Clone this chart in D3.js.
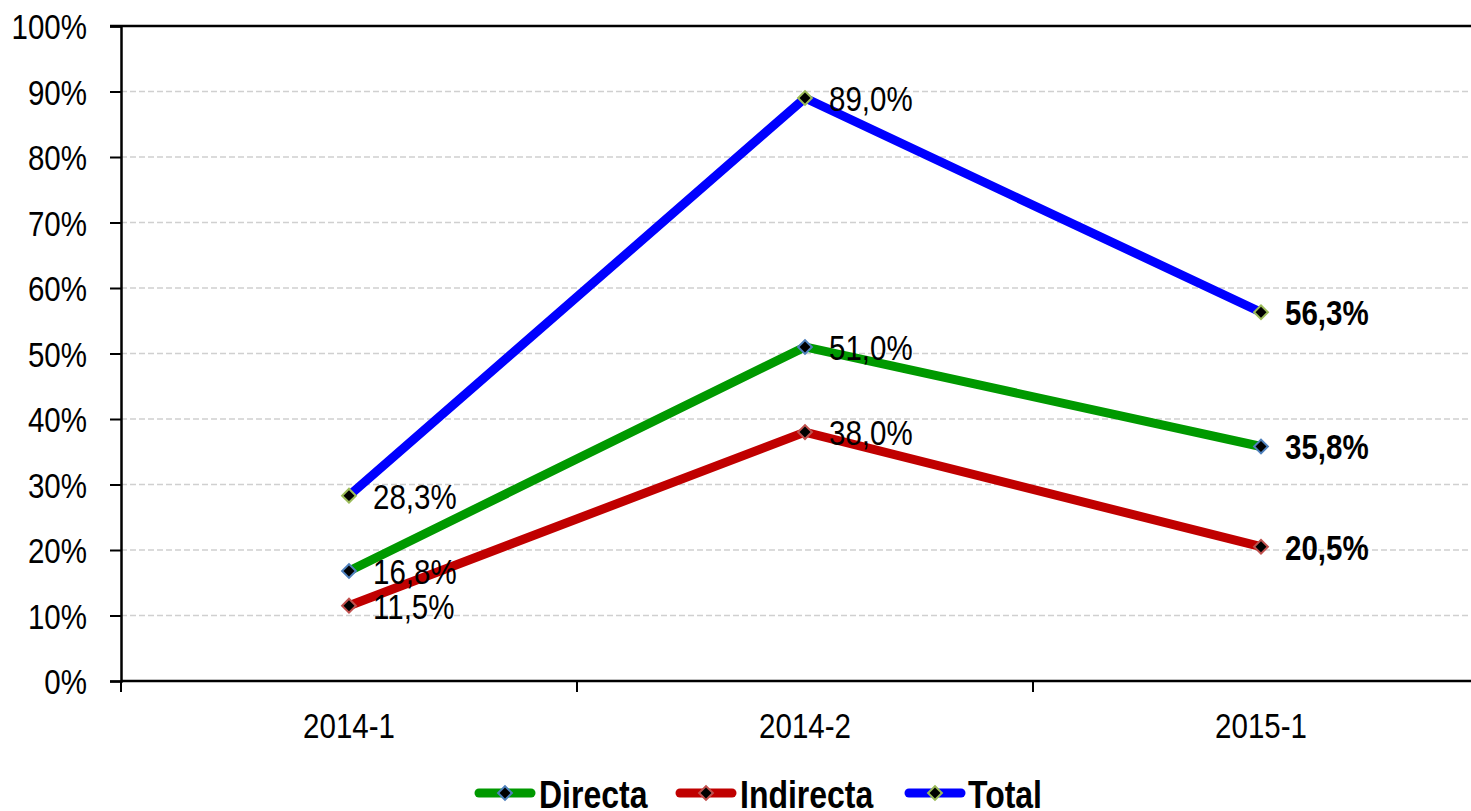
<!DOCTYPE html>
<html>
<head>
<meta charset="utf-8">
<script src="https://cdn.jsdelivr.net/npm/d3@7"></script>
<style>
  html, body { margin: 0; padding: 0; background: #fff; overflow: hidden; }
  svg { display: block; }
  text { font-family: "Liberation Sans", Arial, sans-serif; fill: #000; }
</style>
</head>
<body>
<svg id="chart" width="1471" height="811"></svg>
<script>
const categories = ["2014-1", "2014-2", "2015-1"];
const directa = [16.8, 51.0, 35.8];
const indirecta = [11.5, 38.0, 20.5];
const total = [28.3, 89.0, 56.3];
const yTicks = [0, 10, 20, 30, 40, 50, 60, 70, 80, 90, 100];
const seriesNames = ["Directa", "Indirecta", "Total"];

const series = [
  { name: seriesNames[0], values: directa, color: "#009900", marker: "#4F81BD" },
  { name: seriesNames[1], values: indirecta, color: "#C00000", marker: "#C0504D" },
  { name: seriesNames[2], values: total, color: "#0000FF", marker: "#9BBB59" }
];

const SX = 0.82; // narrow font emulation
const svg = d3.select("#chart");
const plotLeft = 121, plotRight = 1489, plotTop = 26, plotBottom = 681;

const x = d3.scaleBand().domain(categories).range([plotLeft, plotRight]);
const y = d3.scaleLinear().domain([0, 100]).range([plotBottom, plotTop]);
const fmt = v => v.toFixed(1).replace(".", ",") + "%";

// gridlines
svg.append("g").selectAll("line").data(yTicks.filter(t => t > 0 && t < 100)).join("line")
  .attr("x1", plotLeft).attr("x2", plotRight)
  .attr("y1", d => y(d)).attr("y2", d => y(d))
  .attr("stroke", "#d0d0d0").attr("stroke-width", 1.5).attr("stroke-dasharray", "6,3");

// top border line
svg.append("line").attr("x1", plotLeft - 11).attr("x2", plotRight).attr("y1", y(100)).attr("y2", y(100))
  .attr("stroke", "#000").attr("stroke-width", 2.5);

// y axis
const yAxis = d3.axisLeft(y).tickValues(yTicks).tickSize(11).tickFormat(d => d + "%");
const gy = svg.append("g").attr("transform", `translate(${plotLeft},0)`).call(yAxis);
gy.select(".domain").attr("stroke", "#000").attr("stroke-width", 2.5);
gy.selectAll(".tick line").attr("stroke", "#000").attr("stroke-width", 2);
gy.selectAll(".tick text").attr("x", 0).attr("dy", "0.36em")
  .attr("transform", `translate(-34,0) scale(${SX},1)`)
  .style("font-size", "36px").style("font-family", '"Liberation Sans", Arial, sans-serif');

// x axis
const xTickScale = d3.scaleLinear().domain([0, 3]).range([plotLeft, plotRight]);
const gx = svg.append("g").attr("transform", `translate(0,${plotBottom})`);
gx.append("line").attr("x1", plotLeft).attr("x2", plotRight).attr("stroke", "#000").attr("stroke-width", 2.5);
gx.selectAll(".xt").data([0, 1, 2]).join("line").attr("class", "xt")
  .attr("x1", d => xTickScale(d)).attr("x2", d => xTickScale(d))
  .attr("y1", 0).attr("y2", 11).attr("stroke", "#000").attr("stroke-width", 2);
gx.selectAll(".xl").data(categories).join("text").attr("class", "xl")
  .attr("transform", d => `translate(${x(d) + x.bandwidth() / 2},57) scale(${SX},1)`)
  .attr("text-anchor", "middle").style("font-size", "36px").text(d => d);

const cx = c => x(c) + x.bandwidth() / 2;
const line = d3.line().x((d, i) => cx(categories[i])).y(d => y(d));

series.forEach(s => {
  svg.append("path").datum(s.values).attr("d", line)
    .attr("fill", "none").attr("stroke", s.color).attr("stroke-width", 9)
    .attr("stroke-linejoin", "miter").attr("stroke-linecap", "butt");
});
series.forEach(s => {
  svg.append("g").selectAll("path").data(s.values).join("path")
    .attr("d", d3.symbol().type(d3.symbolSquare).size(95))
    .attr("transform", (d, i) => `translate(${cx(categories[i])},${y(d)}) rotate(45)`)
    .attr("fill", "#000").attr("stroke", s.marker).attr("stroke-width", 2);
});
series.forEach(s => {
  svg.append("g").selectAll("text").data(s.values).join("text")
    .attr("transform", (d, i) => `translate(${cx(categories[i]) + 24},${y(d)}) scale(${SX},1)`)
    .attr("dy", "0.36em")
    .style("font-size", "36px")
    .style("font-weight", (d, i) => i === 2 ? "bold" : "normal")
    .text(d => fmt(d));
});

// legend
const legendItems = [
  { s: series[0], x0: 475, tx: 539 },
  { s: series[1], x0: 676, tx: 740 },
  { s: series[2], x0: 905, tx: 968 }
];
const lg = svg.append("g");
legendItems.forEach(it => {
  const ly = 793;
  lg.append("line").attr("x1", it.x0 + 4).attr("x2", it.x0 + 56).attr("y1", ly).attr("y2", ly)
    .attr("stroke", it.s.color).attr("stroke-width", 9).attr("stroke-linecap", "round");
  lg.append("path").attr("d", d3.symbol().type(d3.symbolSquare).size(95))
    .attr("transform", `translate(${it.x0 + 30},${ly}) rotate(45)`)
    .attr("fill", "#000").attr("stroke", it.s.marker).attr("stroke-width", 2);
  lg.append("text").attr("transform", `translate(${it.tx},808) scale(${SX},1)`)
    .style("font-size", "39px").style("font-weight", "bold")
    .text(it.s.name);
});
</script>
</body>
</html>
